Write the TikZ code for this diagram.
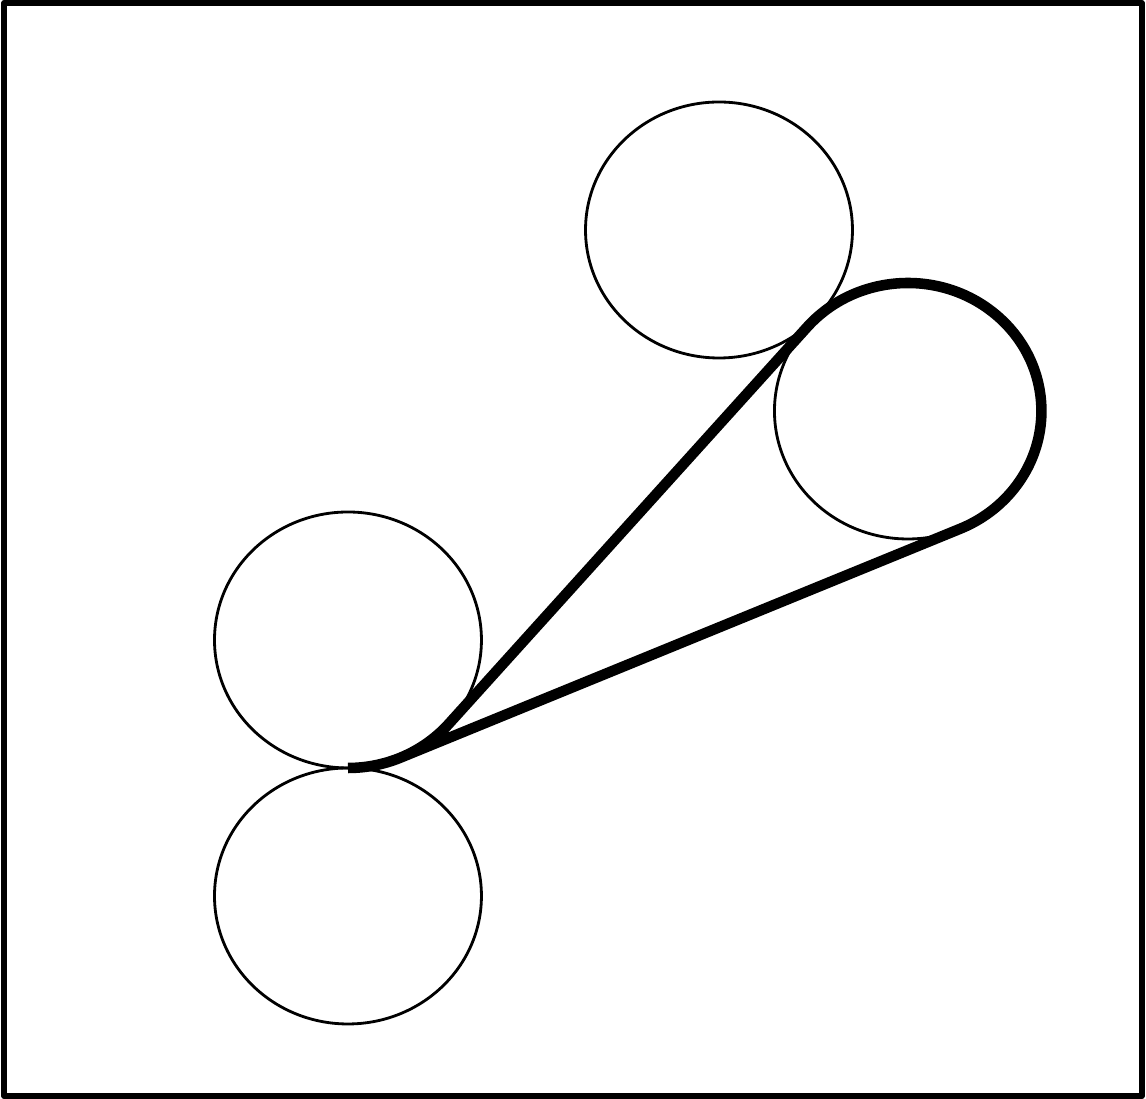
\documentclass[tikz,border=0pt]{standalone}
\usetikzlibrary{calc}
\tikzset{
  every picture/.style={line join=round},
  pulley/.style={line width=0.8pt},
  belt/.style={line width=3pt},
  border/.style={line width=1.6pt},
}
\begin{document}
\begin{tikzpicture}[x={(1.0428cm,0cm)},y={(0cm,1cm)}]
\useasboundingbox (0,0) rectangle (10.990,10.990);
\draw[border] (0.040,0.028) rectangle (10.950,10.962);
% pulleys, all of radius 1.28
\coordinate (ptop) at (6.895,8.690);
\coordinate (pright) at (8.707,6.880);
\coordinate (pupper) at (3.337,4.590);
\coordinate (plower) at (3.337,2.030);
\foreach \p in {ptop,pright,pupper,plower}
  \draw[pulley] (\p) circle[radius=1.28];
% belt: crossed strand on top, open strand below
\draw[belt] ($(pupper)+(-90:1.28)$) arc[start angle=-90,end angle=-40.9,radius=1.28]
  -- ($(pright)+(139.1:1.28)$) arc[start angle=139.1,end angle=-66.91,radius=1.28]
  -- ($(pupper)+(-66.91:1.28)$);
\end{tikzpicture}
\end{document}
